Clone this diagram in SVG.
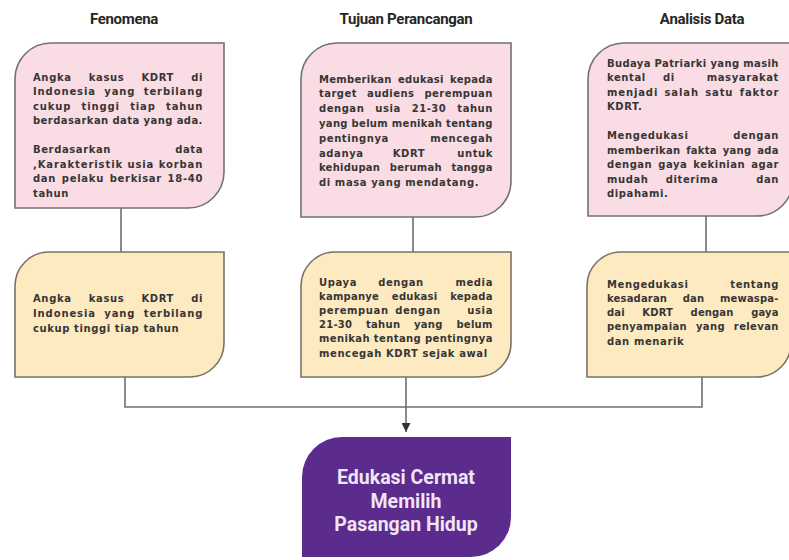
<svg xmlns="http://www.w3.org/2000/svg" width="789" height="560" viewBox="0 0 789 560">
<defs>
<style>
.t{font-family:"DejaVu Sans","Liberation Sans",sans-serif;font-weight:bold;font-size:10px;letter-spacing:0.6px;fill:#363636}
.e{text-anchor:end}
.m{text-anchor:middle}
.h{font-family:Roboto,"Liberation Sans",sans-serif;font-weight:bold;font-size:15px;fill:#262626;text-anchor:middle;letter-spacing:-0.3px}
.p{font-family:Roboto,"Liberation Sans",sans-serif;font-weight:bold;font-size:19.5px;fill:#f1e4f5;text-anchor:middle}
.pink{fill:#f9dce4;stroke:#727272;stroke-width:1.6}
.yel{fill:#fdeac1;stroke:#7a7365;stroke-width:1.6}
.pur{fill:#5b2b8e}
.conn{stroke:#6f6f6f;stroke-width:1.6;fill:none}
</style>
<marker id="arr" viewBox="0 0 10 10" refX="10" refY="5" markerWidth="9" markerHeight="9" markerUnits="userSpaceOnUse" orient="auto">
<path d="M0,0 L10,5 L0,10 Z" fill="#333"/>
</marker>
</defs>
<rect width="789" height="560" fill="#ffffff"/>

<g id="titles">
<text class="h" x="124" y="24">Fenomena</text>
<text class="h" x="406" y="24">Tujuan Perancangan</text>
<text class="h" x="702" y="24">Analisis Data</text>
</g>

<g id="connectors">
<path class="conn" d="M121,208 V252"/>
<path class="conn" d="M413,217 V252"/>
<path class="conn" d="M706,216 V252"/>
<path class="conn" d="M125,377 V407 H702 V377"/>
<path class="conn" d="M406,377 V432" marker-end="url(#arr)"/>
</g>

<g id="fenomena">
<path class="pink" d="M15,208 V79 A36,36 0 0 1 51,43 H224 V172 A36,36 0 0 1 188,208 Z"/>
<text class="t" x="33" y="80.5" textLength="170" lengthAdjust="spacing" style="word-spacing:13px">Angka kasus KDRT di</text>
<text class="t" x="33" y="95" textLength="170" lengthAdjust="spacing" style="word-spacing:4px">Indonesia yang terbilang</text>
<text class="t" x="33" y="109.5" textLength="170" lengthAdjust="spacing" style="word-spacing:6px">cukup tinggi tiap tahun</text>
<text class="t" x="33" y="124" textLength="170" lengthAdjust="spacing">berdasarkan data yang ada.</text>
<text class="t" x="33" y="153">Berdasarkan</text><text class="t e" x="203" y="153">data</text>
<text class="t" x="33" y="167.5" textLength="170" lengthAdjust="spacing">,Karakteristik usia korban</text>
<text class="t" x="33" y="182" textLength="170" lengthAdjust="spacing" style="word-spacing:1.5px">dan pelaku berkisar 18-40</text>
<text class="t" x="33" y="196.5">tahun</text>
</g>

<g id="tujuan">
<path class="pink" d="M301,217 V79 A36,36 0 0 1 337,43 H511 V181 A36,36 0 0 1 475,217 Z"/>
<text class="t" x="319" y="82.5" textLength="174" lengthAdjust="spacing" style="word-spacing:2.5px">Memberikan edukasi kepada</text>
<text class="t" x="319" y="97.3" textLength="174" lengthAdjust="spacing" style="word-spacing:6px">target audiens perempuan</text>
<text class="t" x="319" y="112.1" textLength="174" lengthAdjust="spacing" style="word-spacing:7px">dengan usia 21-30 tahun</text>
<text class="t" x="319" y="126.9" textLength="174" lengthAdjust="spacing">yang belum menikah tentang</text>
<text class="t" x="319" y="141.7">pentingnya</text><text class="t e" x="493" y="141.7">mencegah</text>
<text class="t" x="319" y="156.5">adanya</text><text class="t m" x="409" y="156.5">KDRT</text><text class="t e" x="493" y="156.5">untuk</text>
<text class="t" x="319" y="171.3" textLength="174" lengthAdjust="spacing" style="word-spacing:6px">kehidupan berumah tangga</text>
<text class="t" x="319" y="186.1">di masa yang mendatang.</text>
</g>

<g id="analisis">
<path class="pink" d="M588,216 V79 A36,36 0 0 1 624,43 H793 V180 A36,36 0 0 1 757,216 Z"/>
<text class="t" x="607" y="66.5" textLength="172" lengthAdjust="spacing">Budaya Patriarki yang masih</text>
<text class="t" x="607" y="81">kental</text><text class="t m" x="669" y="81">di</text><text class="t e" x="779" y="81">masyarakat</text>
<text class="t" x="607" y="95.5" textLength="172" lengthAdjust="spacing" style="word-spacing:2px">menjadi salah satu faktor</text>
<text class="t" x="607" y="110">KDRT.</text>
<text class="t" x="607" y="139">Mengedukasi</text><text class="t e" x="779" y="139">dengan</text>
<text class="t" x="607" y="153.5" textLength="172" lengthAdjust="spacing" style="word-spacing:2px">memberikan fakta yang ada</text>
<text class="t" x="607" y="168" textLength="172" lengthAdjust="spacing" style="word-spacing:2px">dengan gaya kekinian agar</text>
<text class="t" x="607" y="182.5">mudah</text><text class="t m" x="692" y="182.5">diterima</text><text class="t e" x="779" y="182.5">dan</text>
<text class="t" x="607" y="197">dipahami.</text>
</g>

<g id="fenomena-ringkas">
<path class="yel" d="M15,377 V286 A34,34 0 0 1 49,252 H224 V343 A34,34 0 0 1 190,377 Z"/>
<text class="t" x="33" y="301.5" textLength="170" lengthAdjust="spacing" style="word-spacing:13px">Angka kasus KDRT di</text>
<text class="t" x="33" y="316.5" textLength="170" lengthAdjust="spacing" style="word-spacing:4px">Indonesia yang terbilang</text>
<text class="t" x="33" y="331.5">cukup tinggi tiap tahun</text>
</g>

<g id="tujuan-ringkas">
<path class="yel" d="M301,377 V286 A34,34 0 0 1 335,252 H511 V343 A34,34 0 0 1 477,377 Z"/>
<text class="t" x="319" y="285.5">Upaya</text><text class="t m" x="401" y="285.5">dengan</text><text class="t e" x="493" y="285.5">media</text>
<text class="t" x="319" y="299.7" textLength="174" lengthAdjust="spacing" style="word-spacing:9px">kampanye edukasi kepada</text>
<text class="t" x="319" y="313.9">perempuan</text><text class="t m" x="418" y="313.9">dengan</text><text class="t e" x="493" y="313.9">usia</text>
<text class="t" x="319" y="328.1" textLength="174" lengthAdjust="spacing" style="word-spacing:10px">21-30 tahun yang belum</text>
<text class="t" x="319" y="342.3" textLength="174" lengthAdjust="spacing">menikah tentang pentingnya</text>
<text class="t" x="319" y="356.5">mencegah KDRT sejak awal</text>
</g>

<g id="analisis-ringkas">
<path class="yel" d="M587,377 V286 A34,34 0 0 1 621,252 H791 V343 A34,34 0 0 1 757,377 Z"/>
<text class="t" x="607" y="287.5">Mengedukasi</text><text class="t e" x="779" y="287.5">tentang</text>
<text class="t" x="607" y="301.8" textLength="172" lengthAdjust="spacing" style="word-spacing:12px">kesadaran dan mewaspa-</text>
<text class="t" x="607" y="316.1" textLength="172" lengthAdjust="spacing" style="word-spacing:14px">dai KDRT dengan gaya</text>
<text class="t" x="607" y="330.4" textLength="172" lengthAdjust="spacing" style="word-spacing:5px">penyampaian yang relevan</text>
<text class="t" x="607" y="344.7">dan menarik</text>
</g>

<g id="hasil">
<path class="pur" d="M302,557 V477 A40,40 0 0 1 342,437 H511 V517 A40,40 0 0 1 471,557 Z"/>
<text class="p" x="406" y="484">Edukasi Cermat</text>
<text class="p" x="406" y="507.5">Memilih</text>
<text class="p" x="406" y="531">Pasangan Hidup</text>
</g>
</svg>
